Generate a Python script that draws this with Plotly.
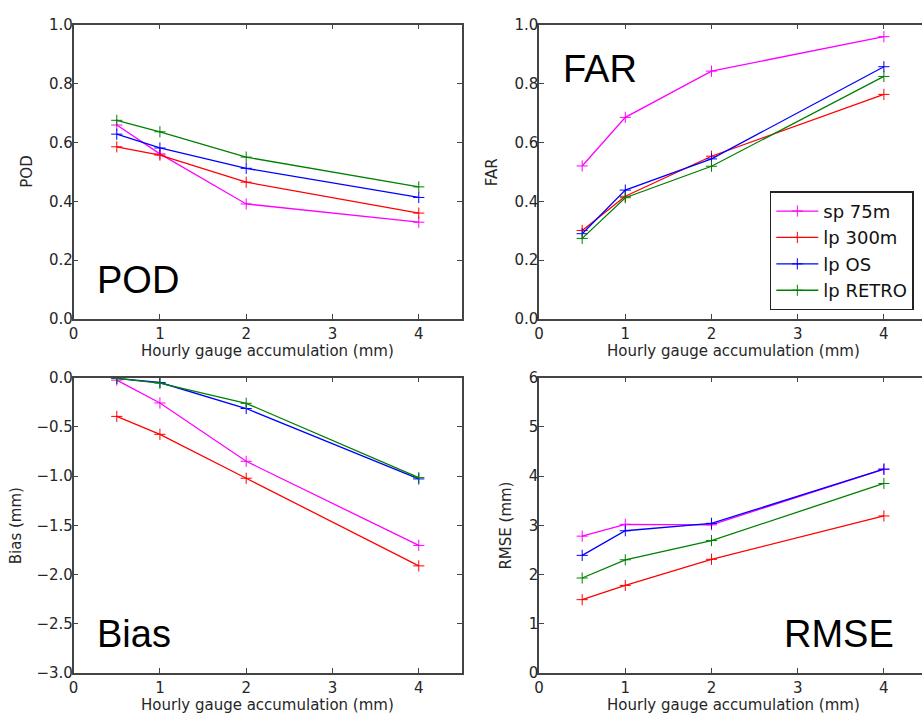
import plotly.graph_objects as go

# ---- data ----
accum_mm = [0.5, 1, 2, 4]
series_names = ["sp 75m", "lp 300m", "lp OS", "lp RETRO"]
series_colors = ["#ff00ff", "#ff0000", "#0000ff", "#008000"]

pod_sp75m = [0.659, 0.561, 0.391, 0.329]
pod_lp300m = [0.585, 0.557, 0.465, 0.360]
pod_lpos = [0.628, 0.581, 0.512, 0.413]
pod_lpretro = [0.675, 0.636, 0.550, 0.449]

far_sp75m = [0.520, 0.685, 0.842, 0.959]
far_lp300m = [0.301, 0.417, 0.553, 0.763]
far_lpos = [0.290, 0.438, 0.544, 0.857]
far_lpretro = [0.274, 0.412, 0.519, 0.824]

bias_sp75m = [-0.026, -0.258, -0.850, -1.704]
bias_lp300m = [-0.394, -0.576, -1.022, -1.912]
bias_lpos = [-0.007, -0.050, -0.314, -1.029]
bias_lpretro = [-0.007, -0.056, -0.261, -1.016]

rmse_sp75m = [2.78, 3.02, 3.01, 4.14]
rmse_lp300m = [1.49, 1.78, 2.31, 3.19]
rmse_lpos = [2.39, 2.89, 3.04, 4.14]
rmse_lpretro = [1.93, 2.30, 2.69, 3.85]

x_ticks = [0, 1, 2, 3, 4]
x_title = "Hourly gauge accumulation (mm)"

W, H = 922, 723
# panel pixel boxes (left, right, top, bottom)
L_X = (69, 459.4)
R_X = (537, 922)
R_X_FULL = 927  # right panels' true right edge lies beyond the picture
T_Y = (16, 318)
B_Y = (378, 681)

def dx(a, b):
    return [a / W, b / W]

def dy(top, bot):
    return [1 - bot / H, 1 - top / H]

R_RANGE = [0, 4.5 * (R_X[1] - R_X[0]) / (R_X_FULL - R_X[0])]

panels = [
    ("x", "y", dx(*L_X), dy(*T_Y), [0, 4.5], [0, 1.0],
     [0, 0.2, 0.4, 0.6, 0.8, 1.0], "POD",
     [pod_sp75m, pod_lp300m, pod_lpos, pod_lpretro], False, "%.1f"),
    ("x2", "y2", dx(*R_X), dy(*T_Y), R_RANGE, [0, 1.0],
     [0, 0.2, 0.4, 0.6, 0.8, 1.0], "FAR",
     [far_sp75m, far_lp300m, far_lpos, far_lpretro], True, "%.1f"),
    ("x3", "y3", dx(*L_X), dy(*B_Y), [0, 4.5], [-3.0, 0.0],
     [-3.0, -2.5, -2.0, -1.5, -1.0, -0.5, 0.0], "Bias (mm)",
     [bias_sp75m, bias_lp300m, bias_lpos, bias_lpretro], False, "%.1f"),
    ("x4", "y4", dx(*R_X), dy(*B_Y), R_RANGE, [0, 6],
     [0, 1, 2, 3, 4, 5, 6], "RMSE (mm)",
     [rmse_sp75m, rmse_lp300m, rmse_lpos, rmse_lpretro], False, "%d"),
]

fig = go.Figure()
FS = 15
tick_font = dict(family="DejaVu Sans", size=FS, color="#262626")
axcol = "#444444"

layout = dict(
    width=W, height=H,
    margin=dict(l=0, r=0, t=0, b=0),
    paper_bgcolor="white", plot_bgcolor="white",
    showlegend=True,
    legend=dict(
        x=769 / W, y=1 - 187 / H, xanchor="left", yanchor="top",
        font=dict(family="DejaVu Sans", size=18, color="#111111"),
        bgcolor="white", bordercolor="#222222", borderwidth=1.5,
        tracegroupgap=0, itemwidth=42,
    ),
)

annotations = []
for i, (xa, ya, xd, yd, xr, yr, yt, ytitle, data, showleg, fmt) in enumerate(panels):
    is_right = xa in ("x2", "x4")
    for name, color, vals in zip(series_names, series_colors, data):
        fig.add_trace(go.Scatter(
            x=accum_mm, y=vals, name=name, mode="lines+markers",
            line=dict(color=color, width=1.3),
            marker=dict(symbol="cross-thin", size=8, color=color,
                        line=dict(color=color, width=1)),
            xaxis=xa, yaxis=ya, showlegend=showleg,
        ))
    xkey = "xaxis" if xa == "x" else "xaxis" + xa[1:]
    ykey = "yaxis" if ya == "y" else "yaxis" + ya[1:]
    layout[xkey] = dict(
        domain=xd, range=xr, anchor=ya, tickvals=x_ticks,
        ticktext=[str(t) for t in x_ticks],
        ticks="inside", ticklen=5, tickwidth=1, tickcolor=axcol,
        showline=True, linecolor=axcol, linewidth=1.5, mirror="ticks",
        showgrid=False, zeroline=False, tickfont=tick_font,
    )
    layout[ykey] = dict(
        domain=yd, range=yr, anchor=xa, tickvals=yt,
        ticktext=[(fmt % v).replace("-", "\u2212") for v in yt],
        ticks="inside", ticklen=5, tickwidth=1, tickcolor=axcol,
        showline=True, linecolor=axcol, linewidth=1.5,
        mirror=False if is_right else "ticks",
        showgrid=False, zeroline=False, tickfont=tick_font,
        ticklabelstandoff=-4,
    )
    # axis titles
    annotations.append(dict(
        text=x_title, xref="paper", yref="paper",
        x=((L_X[0] + L_X[1]) / 2 if not is_right else (R_X[0] + R_X_FULL) / 2) / W,
        y=1 - ((T_Y[1] + 33) if i < 2 else (B_Y[1] + 32.5)) / H,
        xanchor="center", yanchor="middle", showarrow=False,
        font=dict(family="DejaVu Sans", size=FS, color="#262626"),
    ))
    ytitle_x = {"POD": 22, "FAR": 489, "Bias (mm)": 11, "RMSE (mm)": 504}[ytitle]
    annotations.append(dict(
        text=ytitle, xref="paper", yref="paper", textangle=-90,
        x=ytitle_x / W, y=(yd[0] + yd[1]) / 2,
        xanchor="center", yanchor="middle", showarrow=False,
        font=dict(family="DejaVu Sans", size=FS, color="#262626"),
    ))

# big panel labels
big_font = dict(family="Liberation Sans", size=38, color="black")
annotations += [
    dict(text="POD", xref="x", yref="y", x=0.25, y=0.132, xanchor="left",
         yanchor="middle", showarrow=False, font=big_font),
    dict(text="FAR", xref="x2", yref="y2", x=0.26, y=0.85, xanchor="left",
         yanchor="middle", showarrow=False, font=big_font),
    dict(text="Bias", xref="x3", yref="y3", x=0.25, y=-2.60, xanchor="left",
         yanchor="middle", showarrow=False, font=big_font),
    dict(text="RMSE", xref="x4", yref="y4", x=4.14, y=0.80, xanchor="right",
         yanchor="middle", showarrow=False, font=big_font),
]
layout["annotations"] = annotations
fig.update_layout(**layout)

fig.write_html("out.html")
